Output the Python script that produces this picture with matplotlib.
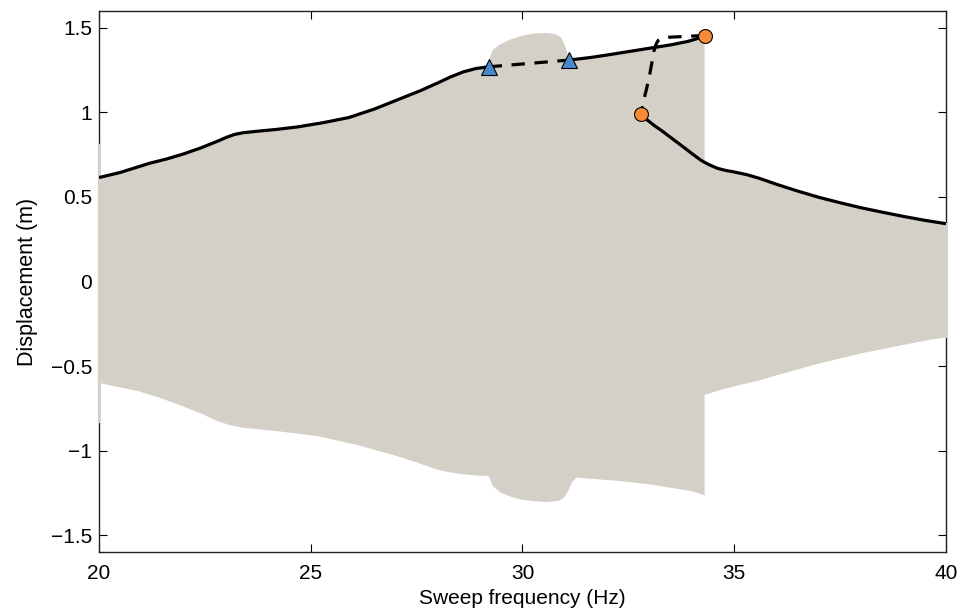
import numpy as np
import matplotlib
matplotlib.use("Agg")
import matplotlib.pyplot as plt

# stable branch, low frequency side (Hz, m)
f_low = [20.0, 20.5, 21.2, 21.6, 22.0, 22.4, 22.8, 23.0, 23.2, 23.4, 23.7, 24.2, 24.7,
         25.3, 25.9, 26.5, 27.1, 27.6, 28.0, 28.3, 28.6, 28.9, 29.2]
a_low = [0.615, 0.645, 0.70, 0.725, 0.755, 0.79, 0.83, 0.852, 0.87, 0.88, 0.888, 0.90, 0.915,
         0.94, 0.97, 1.02, 1.08, 1.13, 1.175, 1.21, 1.24, 1.26, 1.27]

# unstable branch between the two fold points (triangles)
f_uns1 = [29.2, 30.15, 31.1]
a_uns1 = [1.27, 1.29, 1.31]

# stable branch, upper side
f_up = [31.1, 31.6, 32.0, 32.5, 33.0, 33.5, 33.9, 34.1, 34.3]
a_up = [1.31, 1.325, 1.34, 1.36, 1.38, 1.40, 1.42, 1.435, 1.455]

# unstable branch between the two fold points (circles)
f_uns2 = [34.3, 34.0, 33.7, 33.45, 33.3, 33.2, 33.15, 33.1, 33.06, 33.0, 32.93, 32.86, 32.8]
a_uns2 = [1.455, 1.452, 1.448, 1.445, 1.44, 1.425, 1.40, 1.36, 1.30, 1.22, 1.14, 1.07, 0.99]

# stable branch, high frequency side
f_high = [32.8, 32.95, 33.1, 33.3, 33.5, 33.75, 34.0, 34.2, 34.3, 34.4, 34.6, 34.8, 35.0,
          35.3, 35.6, 36.0, 36.5, 37.0, 37.5, 38.0, 38.5, 39.0, 39.5, 40.0]
a_high = [0.99, 0.955, 0.925, 0.89, 0.852, 0.805, 0.757, 0.72, 0.705, 0.692, 0.67, 0.657, 0.648,
          0.632, 0.61, 0.575, 0.535, 0.498, 0.466, 0.436, 0.41, 0.385, 0.362, 0.342]

# sweep envelope, upper hump where the sweep stays on the top branch
f_hump = [29.2, 29.22, 29.3, 29.45, 29.7, 30.0, 30.3, 30.6, 30.8, 30.92, 31.0, 31.05, 31.1]
a_hump = [1.27, 1.32, 1.37, 1.40, 1.43, 1.455, 1.468, 1.47, 1.462, 1.44, 1.40, 1.36, 1.31]

# sweep envelope, lower edge
f_bot = [20.0, 20.95, 21.4, 21.9, 22.4, 22.8, 23.1, 23.4, 24.2, 25.15, 26.1,
         27.0, 27.5, 27.95, 28.3, 28.6, 28.9, 29.2, 29.25, 29.3, 29.49, 29.75,
         29.96, 30.3, 30.56, 30.85, 30.98, 31.08, 31.17, 31.27, 31.5, 32.3, 33.0, 33.5,
         34.0, 34.3, 34.3, 34.7, 35.16, 35.6, 36.0, 36.5, 37.0, 37.5, 38.0, 38.5, 39.0,
         39.5, 40.0]
a_bot = [-0.60, -0.65, -0.685, -0.73, -0.78, -0.826, -0.85, -0.865, -0.885, -0.914, -0.967,
         -1.03, -1.07, -1.11, -1.13, -1.14, -1.148, -1.15, -1.18, -1.21, -1.25, -1.275,
         -1.29, -1.30, -1.305, -1.298, -1.28, -1.24, -1.19, -1.16, -1.165, -1.18, -1.20, -1.22,
         -1.24, -1.265, -0.67, -0.64, -0.61, -0.585, -0.555, -0.52, -0.485, -0.455, -0.425, -0.40, -0.375,
         -0.35, -0.33]

# start transient at 20 Hz (drawn over the left axis line)
a_start = [-0.83, 0.81]

plt.rcParams['font.family'] = ['Liberation Sans', 'DejaVu Sans']
plt.rcParams['font.size'] = 15

fig = plt.figure(figsize=(9.63, 6.14), dpi=100)
ax = fig.add_axes([0.1028, 0.101, 0.8795, 0.881])

grey = '#d4d0c8'

# envelope = branches that the sweep follows on the top side
hx = np.array(f_high)
ha = np.array(a_high)
keep = hx >= 34.3
top_x = f_low + f_hump[1:] + f_up[1:] + list(hx[keep])
top_y = a_low + a_hump[1:] + a_up[1:] + list(ha[keep])
ax.fill(top_x + f_bot[::-1], top_y + a_bot[::-1], color=grey, lw=0, zorder=3)
ax.plot([20, 20], a_start, color=grey, lw=1.6, zorder=3, clip_on=False)
ax.plot([40, 40], [a_bot[-1], a_high[-1]], color=grey, lw=1.6, zorder=3, clip_on=False)

ax.plot(f_low, a_low, 'k-', lw=2.3, zorder=4, solid_capstyle='butt')
ax.plot(f_up, a_up, 'k-', lw=2.3, zorder=4)
ax.plot(f_high, a_high, 'k-', lw=2.3, zorder=4, solid_capstyle='butt')
ax.plot(f_uns1, a_uns1, 'k--', lw=2.3, dashes=(4.2, 3.0), zorder=4)
ax.plot(f_uns2, a_uns2, 'k--', lw=2.3, dashes=(4.2, 3.0), zorder=4)

ax.plot([f_uns1[0], f_uns1[-1]], [a_uns1[0], a_uns1[-1]], '^', ms=11,
        mfc='#4a88cc', mec='k', mew=0.8, zorder=5)
ax.plot([f_uns2[0], f_uns2[-1]], [a_uns2[0], a_uns2[-1]], 'o', ms=10,
        mfc='#f98a3a', mec='k', mew=0.8, zorder=5)

ax.set_xlim(20, 40)
ax.set_ylim(-1.6, 1.6)
ax.set_xticks([20, 25, 30, 35, 40])
ax.set_yticks([-1.5, -1, -0.5, 0, 0.5, 1, 1.5])
ax.set_yticklabels(['\u22121.5', '\u22121', '\u22120.5', '0', '0.5', '1', '1.5'])
ax.tick_params(direction='in', length=6, width=0.8, top=True, right=True)
ax.tick_params(axis='x', pad=9)
ax.tick_params(axis='y', pad=5)
for s in ax.spines.values():
    s.set_linewidth(1.0)
    s.set_color('#222222')

ax.set_xlabel('Sweep frequency (Hz)', labelpad=4)
ax.set_ylabel('Displacement (m)', labelpad=9, fontsize=15.5)

fig.savefig('out.png', dpi=100)
